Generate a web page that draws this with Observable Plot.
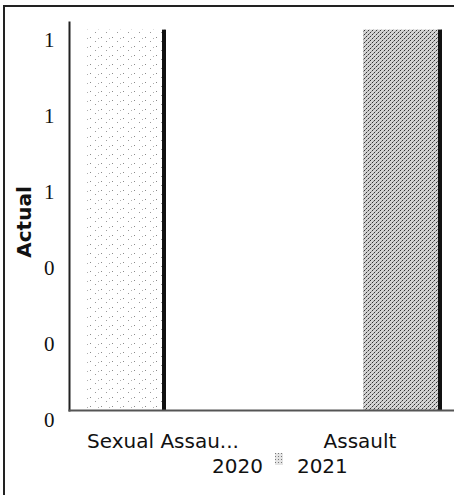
<!DOCTYPE html>
<html>
<head>
<meta charset="utf-8">
<script src="https://cdn.jsdelivr.net/npm/d3@7"></script>
<script src="https://cdn.jsdelivr.net/npm/@observablehq/plot@0.6"></script>
<style>
  html, body { margin: 0; padding: 0; background: #fff; }
  #wrap { position: relative; width: 454px; height: 495px; overflow: hidden; }
  #frame { position: absolute; left: 3px; top: 5px; width: 460px; height: 500px;
           border-left: 2px solid #222; border-top: 2px solid #222; }
  #chart { position: absolute; left: 0; top: 0; }
  #ylabel { position: absolute; left: 24px; top: 222px; transform: translate(-50%, -50%) rotate(-90deg);
            font: bold 20px "DejaVu Sans", Verdana, sans-serif; color: #111; white-space: nowrap; }
  #legend { position: absolute; left: 212px; top: 466px; transform: translateY(-50%); display: flex; align-items: center;
            font: 20px "DejaVu Sans", Verdana, sans-serif; color: #111; white-space: nowrap; }
  .sw { display: block; margin: 0 14px 0 12px; position: relative; top: -7px; }
</style>
</head>
<body>
<div id="wrap">
  <div id="frame"></div>
  <div id="chart"></div>
  <div id="ylabel">Actual</div>
  <div id="legend"></div>
</div>
<script>
const categories = ["Sexual Assau...", "Assault"];
const years = ["2020", "2021"];
const values2020 = [1, 0];
const values2021 = [0, 1];
const yTicks = [0, 0.2, 0.4, 0.6, 0.8, 1];

const data = [];
categories.forEach((c, i) => {
  data.push({category: c, year: years[0], value: values2020[i]});
  data.push({category: c, year: years[1], value: values2021[i]});
});

const fills = {"2020": "url(#p2020)", "2021": "url(#p2021)"};

const plot = Plot.plot({
  width: 454,
  height: 455,
  marginTop: 22,
  marginBottom: 45,
  marginLeft: 68,
  marginRight: 0,
  style: {background: "transparent"},
  fx: {domain: categories, paddingInner: 0.0505, paddingOuter: 0, label: null},
  x: {domain: years, paddingInner: 0, paddingOuter: 0.175, align: 0.607, axis: null},
  y: {domain: [0, 1.02], axis: null},
  marks: [
    Plot.axisFx({anchor: "bottom", tickSize: 0, tickPadding: 23, label: null,
      fontSize: 20, fontFamily: "DejaVu Sans, Verdana, sans-serif", fill: "#111"}),
    Plot.axisY({ticks: yTicks, tickFormat: d3.format(".0f"), tickSize: 0, tickPadding: 15, label: null,
      dy: 10, fontSize: 21, fontFamily: "Liberation Serif, Times New Roman, serif", fill: "#111"}),
    Plot.barY(data.filter(d => d.year === "2020"), {fx: "category", x: "year", y: "value", fill: fills["2020"]}),
    Plot.barY(data.filter(d => d.year === "2021"), {fx: "category", x: "year", y: "value", fill: fills["2021"]}),
    Plot.barY(data, {fx: "category", x: "year", y: "value", fill: "url(#edge)"}),
    Plot.frame({anchor: "left", facet: "super", stroke: "#222", strokeWidth: 2}),
    Plot.frame({anchor: "bottom", facet: "super", stroke: "#555", strokeWidth: 2})
  ]
});

// Pattern / gradient definitions used as fills
const ns = "http://www.w3.org/2000/svg";
const defs = document.createElementNS(ns, "defs");
defs.innerHTML = `
  <pattern id="p2020" width="11" height="9" patternUnits="userSpaceOnUse">
    <rect width="11" height="9" fill="#ffffff"/>
    <rect x="1" y="1" width="1" height="1" fill="#8a8a8a"/>
    <rect x="6" y="5" width="1" height="1" fill="#9a9a9a"/>
    <rect x="9" y="2" width="1" height="1" fill="#b0b0b0"/>
  </pattern>
  <pattern id="p2021" width="4" height="4" patternUnits="userSpaceOnUse">
    <rect width="4" height="4" fill="#d4d4d4"/>
    <rect x="0" y="0" width="1" height="1" fill="#333"/>
    <rect x="2" y="2" width="1" height="1" fill="#333"/>
    <rect x="3" y="1" width="1" height="1" fill="#7a7a7a"/>
    <rect x="1" y="3" width="1" height="1" fill="#9a9a9a"/>
  </pattern>
  <linearGradient id="edge" x1="0" x2="1" y1="0" y2="0">
    <stop offset="0" stop-color="#000" stop-opacity="0"/>
    <stop offset="0.95" stop-color="#000" stop-opacity="0"/>
    <stop offset="0.95" stop-color="#111" stop-opacity="1"/>
    <stop offset="1" stop-color="#111" stop-opacity="1"/>
  </linearGradient>`;
plot.insertBefore(defs, plot.firstChild);
document.getElementById("chart").appendChild(plot);

// Legend
const legend = document.getElementById("legend");
years.forEach((y, i) => {
  if (i > 0) {
    const sw = document.createElementNS(ns, "svg");
    sw.setAttribute("width", 8); sw.setAttribute("height", 12);
    sw.setAttribute("class", "sw");
    sw.innerHTML = `<defs><pattern id="lg${y}" width="3" height="3" patternUnits="userSpaceOnUse"><rect width="3" height="3" fill="#e4e4e4"/><rect width="1" height="1" fill="#777"/></pattern></defs><rect width="8" height="12" fill="url(#lg${y})"/>`;
    legend.appendChild(sw);
  }
  const t = document.createElement("span");
  t.textContent = y;
  legend.appendChild(t);
});
</script>
</body>
</html>
